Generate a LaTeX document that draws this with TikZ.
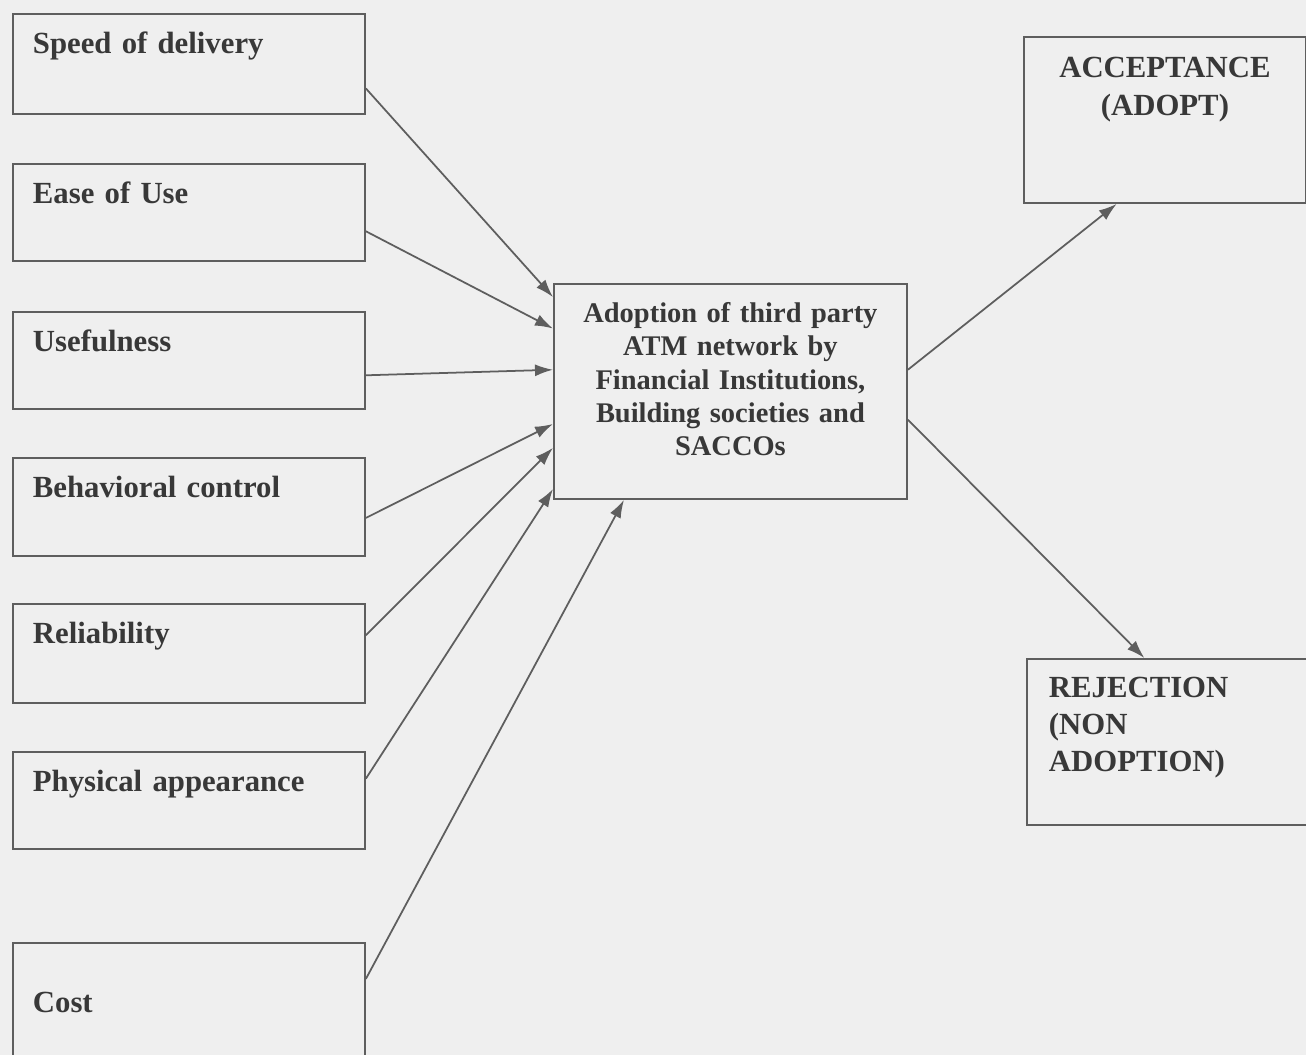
\documentclass[tikz,border=0pt]{standalone}
\usepackage{fontspec}
\setmainfont{Liberation Serif}
\usepackage{tikz}
\usepackage{xcolor}
\definecolor{scanbg}{HTML}{EFEFEF}
\definecolor{ink}{HTML}{383838}
\definecolor{edge}{HTML}{5E5E5E}
\tikzset{box/.style={draw=edge, line width=1.1pt, anchor=north west, inner ysep=0pt, text=ink},
 factor/.style={box, inner xsep=0.4cm, text width=6.24cm, align=left, text height=0.8cm,
  font=\bfseries\fontsize{17.5}{21}\selectfont},
 outcome/.style={box, font=\bfseries\fontsize{17.5}{21.6}\selectfont},
 link/.style={draw=edge, line width=1pt, -{Latex[length=0.36cm,width=0.24cm]}},
 }
\usetikzlibrary{arrows.meta}
\usetikzlibrary{calc}

\begin{document}
\begin{tikzpicture}[x=0.02cm, y=-0.02cm]
        \useasboundingbox (0,0) rectangle (1306,1055);
        \fill[scanbg] (0,0) rectangle (1306,1055);
        \node[factor, text depth=1.2cm] (speed) at (12,13) {Speed of delivery};
        \node[factor, text depth=1.14cm] (ease) at (12,163) {Ease of Use};
        \node[factor, text depth=1.14cm] (useful) at (12,311) {Usefulness};
        \node[factor, text depth=1.16cm] (behav) at (12,457) {Behavioral control};
        \node[factor, text depth=1.18cm] (reliab) at (12,603) {Reliability};
        \node[factor, text depth=1.14cm] (phys) at (12,751) {Physical appearance};
        \node[factor, text height=1.4cm, text depth=1.4cm] (cost) at (12,942) {Cost};
        \node[box, inner xsep=0pt, text width=7.06cm, align=center, text height=0.78cm, text depth=3.52cm,
              font=\bfseries\fontsize{16.2}{18.8}\selectfont] (adopt) at (553,283)
              {Adoption of third party\\ATM network by\\Financial Institutions,\\Building societies and\\SACCOs};
        \node[outcome, inner xsep=0pt, text width=5.64cm, align=center, text height=0.82cm, text depth=2.5cm]
              (accept) at (1023,36) {ACCEPTANCE\\(ADOPT)};
        \node[outcome, inner xsep=0.44cm, text width=4.72cm, align=left, text height=0.78cm, text depth=2.54cm,
              font=\bfseries\fontsize{17.5}{21}\selectfont] (reject) at (1026,658) {REJECTION\\(NON\\ADOPTION)};
        \draw[link] ($(speed.north east)!0.74!(speed.south east)$) -- ($(adopt.north west)!0.065!(adopt.south west)$);
        \draw[link] ($(ease.north east)!0.69!(ease.south east)$) -- ($(adopt.north west)!0.21!(adopt.south west)$);
        \draw[link] ($(useful.north east)!0.65!(useful.south east)$) -- ($(adopt.north west)!0.40!(adopt.south west)$);
        \draw[link] ($(behav.north east)!0.61!(behav.south east)$) -- ($(adopt.north west)!0.65!(adopt.south west)$);
        \draw[link] ($(reliab.north east)!0.32!(reliab.south east)$) -- ($(adopt.north west)!0.76!(adopt.south west)$);
        \draw[link] ($(phys.north east)!0.28!(phys.south east)$) -- ($(adopt.north west)!0.95!(adopt.south west)$);
        \draw[link] ($(cost.north east)!0.26!(cost.south east)$) -- ($(adopt.south west)!0.2!(adopt.south east)$);
        \draw[link] ($(adopt.north east)!0.40!(adopt.south east)$) -- ($(accept.south west)!0.33!(accept.south east)$);
        \draw[link] ($(adopt.north east)!0.63!(adopt.south east)$) -- ($(reject.north west)!0.42!(reject.north east)$);
    \end{tikzpicture}
\end{document}
